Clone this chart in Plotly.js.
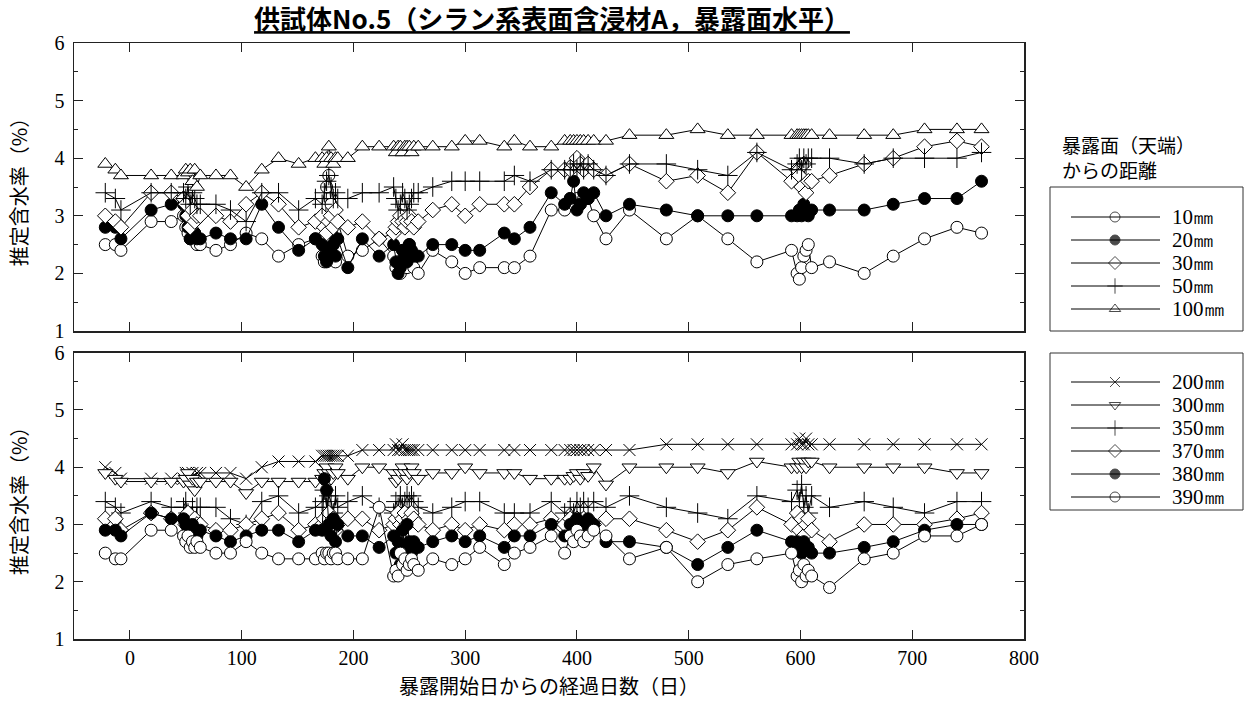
<!DOCTYPE html>
<html>
<head>
<meta charset="utf-8">
<script src="https://cdn.plot.ly/plotly-3.0.1.min.js"></script>
<style>html,body{margin:0;padding:0;background:#fff;}</style>
</head>
<body>
<div id="chart" style="width:1245px;height:702px;"></div>
<script>
// Measurement days (elapsed days since exposure start)
const days = [-22,-13,-8,19,37, 48,50,52,54,56,58,60, 63,77,90,104,118,133,151,166,
  172,174,176,178,180,182,184,186, 195,208,223,
  236,238,240,242,244,246,248,250,252,254,
  258,271,288,300,313,335,344,358,377,389,
  394,397,400,403,406,410,415,
  426,447,480,508,535,561,592,
  597,599,601,603,605,607,610,
  626,657,683,711,740,762];

// Upper panel: depth from exposed surface 10-100 mm
const top10 = [2.5,2.5,2.4,2.9,2.9, 3.0,2.8,2.7,2.6,2.9,2.7,2.5, 2.5,2.4,2.5,2.7,2.6,2.3,2.5,2.6,
  2.3,2.2,3.5,3.7,3.2,2.5,2.2,2.9, 2.3,2.4,2.6,
  2.3,2.1,2.2,2.0,2.4,2.3,2.1,2.5,2.2,2.1,
  2.0,2.4,2.2,2.0,2.1,2.1,2.1,2.3,3.1,3.1,
  3.3,3.2,3.3,3.2,3.3,3.3,3.0,
  2.6,3.1,2.6,3.0,2.6,2.2,2.4,
  2.0,1.9,2.1,2.3,2.4,2.5,2.1,
  2.2,2.0,2.3,2.6,2.8,2.7];
const top20 = [2.8,2.8,2.6,3.1,3.2, 3.2,3.0,2.8,2.6,2.9,2.7,2.6, 2.6,2.7,2.6,2.6,3.2,2.8,2.4,2.6,
  2.5,2.3,2.2,2.4,2.7,2.5,2.3,2.6, 2.1,2.6,2.3,
  2.5,2.2,2.0,2.1,2.4,2.3,2.2,2.5,2.4,2.3,
  2.3,2.5,2.5,2.4,2.4,2.7,2.6,2.8,3.4,3.2,
  3.3,3.6,3.1,3.2,3.4,3.3,3.4,
  3.0,3.2,3.1,3.0,3.0,3.0,3.0,
  3.0,3.1,3.0,3.2,3.1,3.0,3.1,
  3.1,3.1,3.2,3.3,3.3,3.6];
const top30 = [3.0,2.9,2.8,3.4,3.4, 3.3,3.2,3.0,2.8,3.1,2.9,3.0, 3.0,3.0,2.9,3.2,3.4,3.2,2.8,2.9,
  3.0,2.8,2.7,2.9,3.0,2.8,3.1,2.9, 2.8,2.9,2.6,
  2.7,2.8,2.9,3.0,2.9,2.8,2.9,3.0,2.9,2.8,
  2.9,3.1,3.2,3.0,3.2,3.2,3.2,3.5,3.8,3.8,
  3.8,3.9,4.0,3.9,3.8,3.9,3.8,
  3.7,3.9,3.6,3.7,3.4,4.1,3.6,
  3.8,3.7,3.5,3.9,3.4,3.6,3.6,
  3.7,3.9,4.0,4.2,4.3,4.2];
const top50 = [3.4,3.3,3.1,3.4,3.4, 3.4,3.3,3.5,3.2,3.4,3.3,3.2, 3.2,3.2,3.1,2.9,3.4,3.4,3.1,3.3,
  3.2,3.4,3.6,3.7,3.5,3.3,3.4,3.3, 3.3,3.4,3.4,
  3.5,3.3,3.1,3.2,3.4,3.3,3.1,3.2,3.3,3.4,
  3.4,3.5,3.6,3.6,3.6,3.6,3.7,3.6,3.8,3.8,
  3.8,3.9,3.8,3.9,3.8,3.9,3.8,
  3.7,3.9,3.9,3.8,3.7,4.1,3.8,
  3.9,4.0,3.8,4.0,3.9,4.0,4.0,
  4.0,3.9,4.0,4.0,4.0,4.1];
const top100 = [3.9,3.8,3.7,3.7,3.7, 3.7,3.8,3.75,3.8,3.6,3.8,3.5, 3.7,3.7,3.7,3.5,3.8,4.0,3.9,4.0,
  4.0,3.9,4.0,4.2,4.0,3.9,4.0,4.0, 4.0,4.2,4.2,
  4.2,4.1,4.2,4.2,4.1,4.2,4.2,4.2,4.1,4.2,
  4.2,4.2,4.2,4.3,4.3,4.2,4.3,4.2,4.2,4.3,
  4.3,4.3,4.3,4.3,4.3,4.3,4.3,
  4.3,4.4,4.4,4.5,4.4,4.4,4.4,
  4.4,4.4,4.4,4.4,4.4,4.4,4.4,
  4.4,4.4,4.4,4.5,4.5,4.5];

// Lower panel: depth from exposed surface 200-390 mm
const bot200 = [4.0,3.9,3.8,3.8,3.8, 3.8,3.9,3.9,3.8,3.9,3.8,3.9, 3.9,3.9,3.9,3.8,4.0,4.1,4.1,4.1,
  4.2,4.2,4.2,4.2,4.2,4.2,4.2,4.2, 4.2,4.3,4.3,
  4.3,4.4,4.3,4.3,4.4,4.3,4.3,4.3,4.3,4.3,
  4.3,4.3,4.3,4.3,4.3,4.3,4.3,4.3,4.3,4.3,
  4.3,4.3,4.3,4.3,4.3,4.3,4.3,
  4.3,4.3,4.4,4.4,4.4,4.4,4.4,
  4.4,4.5,4.4,4.4,4.5,4.4,4.4,
  4.4,4.4,4.4,4.4,4.4,4.4];
const bot300 = [3.9,3.8,3.75,3.75,3.75, 3.75,3.8,3.9,3.7,3.8,3.6,3.75, 3.75,3.75,3.75,3.55,3.75,3.75,3.75,3.75,
  3.8,3.9,4.0,3.9,3.8,3.9,4.0,3.9, 3.8,4.0,4.0,
  3.9,3.75,3.8,3.9,4.0,3.9,3.8,3.9,4.0,3.9,
  3.8,3.9,3.9,4.0,3.9,3.9,3.9,3.8,3.8,3.8,
  3.8,3.85,3.9,3.8,3.9,3.85,4.0,
  3.7,4.0,4.0,4.0,3.9,4.1,4.0,
  4.0,4.1,4.0,4.1,4.0,4.1,4.1,
  4.0,4.0,4.0,4.0,3.9,3.9];
const bot350 = [3.4,3.3,3.2,3.4,3.3, 3.3,3.4,3.2,3.1,3.3,3.0,3.3, 3.3,3.3,3.1,3.0,3.4,3.5,3.2,3.3,
  3.4,3.6,3.3,3.5,3.4,3.2,3.5,3.3, 3.4,3.5,3.3,
  3.2,3.4,3.3,3.5,3.3,3.4,3.5,3.4,3.5,3.4,
  3.3,3.2,3.3,3.4,3.4,3.2,3.2,3.2,3.4,3.2,
  3.3,3.2,3.4,3.3,3.4,3.3,3.4,
  3.3,3.5,3.3,3.2,3.1,3.5,3.4,
  3.6,3.4,3.7,3.3,3.5,3.2,3.5,
  3.3,3.4,3.3,3.2,3.4,3.4];
const bot370 = [3.1,3.1,2.9,3.2,3.1, 3.1,3.0,3.2,2.9,3.0,3.1,3.0, 3.0,2.9,2.9,3.0,3.1,3.2,2.9,3.0,
  3.0,3.1,2.9,3.2,3.0,3.1,2.9,3.0, 3.1,3.1,2.9,
  3.0,3.1,3.2,3.0,3.1,3.2,3.0,3.1,3.2,3.1,
  3.0,2.9,3.0,2.9,3.0,2.9,3.0,3.0,3.1,3.0,
  3.1,3.0,3.1,3.0,3.1,3.0,3.0,
  3.1,3.1,2.9,2.7,2.9,3.3,3.0,
  3.2,2.9,3.1,2.8,3.0,3.1,2.9,
  2.7,3.0,3.0,3.0,3.1,3.2];
const bot380 = [2.9,2.9,2.8,3.2,3.1, 3.1,3.0,2.9,2.8,3.0,2.9,2.8, 2.9,2.8,2.7,2.8,2.9,2.9,2.7,2.9,
  2.9,3.8,3.6,3.0,2.8,3.1,2.7,3.0, 2.8,2.8,2.6,
  2.8,2.5,2.7,2.3,2.9,2.6,3.0,2.7,2.5,2.7,
  2.6,2.7,2.8,2.7,2.8,2.6,2.8,2.8,3.0,2.8,
  3.0,2.9,3.1,2.8,3.0,3.1,3.0,
  2.7,2.7,2.6,2.3,2.6,2.9,2.7,
  2.7,2.6,2.5,2.7,2.6,2.6,2.5,
  2.5,2.6,2.7,2.9,3.0,3.0];
const bot390 = [2.5,2.4,2.4,2.9,2.9, 2.8,2.7,2.8,2.6,2.7,2.6,2.7, 2.6,2.5,2.5,2.7,2.5,2.4,2.4,2.4,
  2.5,2.4,2.5,2.5,2.4,2.5,2.5,2.4, 2.4,2.4,3.3,
  2.1,2.2,2.1,2.5,2.3,2.4,2.2,2.3,2.4,2.3,
  2.2,2.4,2.3,2.4,2.6,2.3,2.5,2.6,2.8,2.5,
  2.8,2.7,2.9,2.8,2.7,2.8,2.9,
  2.8,2.4,2.6,2.0,2.3,2.4,2.5,
  2.1,2.2,2.0,2.3,2.1,2.2,2.1,
  1.9,2.4,2.5,2.8,2.8,3.0];

const topNames = ['10㎜','20㎜','30㎜','50㎜','100㎜'];
const botNames = ['200㎜','300㎜','350㎜','370㎜','380㎜','390㎜'];
const chartTitle = '供試体No.5（シラン系表面含浸材A，暴露面水平）';
const yTitle = '推定含水率（%）';
const xTitle = '暴露開始日からの経過日数（日）';
const legendHeading = '暴露面（天端）<br>からの距離';

const serif = 'Liberation Serif, Times New Roman, DejaVu Serif, serif';
const cjk = 'Noto Sans CJK JP, sans-serif';
const ink = '#000';

// marker styles: [symbol, fill, size]
const styles = {
  openCircle: ['circle', '#fff', 12],
  dot: ['circle', '#000', 12],
  diamond: ['diamond', '#fff', 12],
  plus: ['cross-thin', '#000', 14],
  triUp: ['triangle-up', '#fff', 13],
  cross: ['x-thin', '#000', 12],
  triDown: ['triangle-down', '#fff', 13]
};

function series(y, st, xa, ya) {
  const s = styles[st];
  return {
    x: days, y: y, xaxis: xa, yaxis: ya, type: 'scatter', mode: 'lines+markers',
    showlegend: false, hoverinfo: 'skip',
    line: {color: ink, width: 1},
    marker: {symbol: s[0], color: s[1], size: s[2], line: {color: ink, width: 1}}
  };
}

const topSeries = [[top10,'openCircle'],[top20,'dot'],[top30,'diamond'],[top50,'plus'],[top100,'triUp']];
const botSeries = [[bot200,'cross'],[bot300,'triDown'],[bot350,'plus'],[bot370,'diamond'],[bot380,'dot'],[bot390,'openCircle']];

const traces = [];
topSeries.forEach(p => traces.push(series(p[0], p[1], 'x2', 'y2')));
botSeries.forEach(p => traces.push(series(p[0], p[1], 'x', 'y')));

// key panels (drawn on a hidden pixel-scaled axis pair)
const keyLineX0 = 1071, keyLineX1 = 1160, keyMarkX = 1115, keyTextX = 1170;
const keyTopRow0 = 217, keyBotRow0 = 382, keyStep = 23;
const shapes = [];
const annotations = [];
function keyBlock(names, stKeys, row0) {
  const xs = [], ys = [], syms = [], fills = [], sizes = [];
  names.forEach((n, i) => {
    const yy = row0 + i * keyStep;
    shapes.push({type: 'line', xref: 'x3', yref: 'y3', x0: keyLineX0, x1: keyLineX1, y0: yy, y1: yy,
      line: {color: ink, width: 1}});
    annotations.push({xref: 'x3', yref: 'y3', x: keyTextX, y: yy, text: n, showarrow: false,
      xanchor: 'left', yanchor: 'middle', font: {family: serif, size: 21, color: ink}});
    const s = styles[stKeys[i]];
    xs.push(keyMarkX); ys.push(yy); syms.push(s[0]); fills.push(s[1]); sizes.push(Math.round(s[2] * 0.8));
  });
  traces.push({x: xs, y: ys, xaxis: 'x3', yaxis: 'y3', type: 'scatter', mode: 'markers',
    showlegend: false, hoverinfo: 'skip', cliponaxis: false,
    marker: {symbol: syms, color: fills, size: sizes, line: {color: ink, width: 1}}});
}
keyBlock(topNames, topSeries.map(p => p[1]), keyTopRow0);
keyBlock(botNames, botSeries.map(p => p[1]), keyBotRow0);
shapes.push({type: 'rect', xref: 'x3', yref: 'y3', x0: 1050, x1: 1243, y0: 187, y1: 331, line: {color: '#333', width: 1}});
shapes.push({type: 'rect', xref: 'x3', yref: 'y3', x0: 1050, x1: 1243, y0: 353, y1: 510, line: {color: '#333', width: 1}});
annotations.push({xref: 'x3', yref: 'y3', x: 1060, y: 157, text: legendHeading, showarrow: false,
  xanchor: 'left', yanchor: 'middle', align: 'left', font: {family: cjk, size: 19, color: ink}});

function axisBase() {
  return {
    showline: true, linecolor: '#222', linewidth: 1.5, mirror: 'ticks',
    ticks: 'inside', ticklen: 9, tickwidth: 1, tickcolor: '#222',
    showgrid: false, zeroline: false,
    tickfont: {family: serif, size: 20, color: ink}
  };
}
const xDomain = [0, 950 / 1171];
const xBottom = Object.assign(axisBase(), {
  domain: xDomain, anchor: 'y', range: [-50, 800], tick0: 0, dtick: 100,
  title: {text: xTitle, font: {family: cjk, size: 20, color: ink}, standoff: 12}
});
const xTop = Object.assign(axisBase(), {
  domain: xDomain, anchor: 'y2', range: [-50, 800], tick0: 0, dtick: 100, showticklabels: false
});
function yAxis(domain, anchor) {
  return Object.assign(axisBase(), {
    domain: domain, anchor: anchor, range: [1, 6], tick0: 1, dtick: 1,
    ticklabelstandoff: 4,
    minor: {dtick: 0.5, ticklen: 4, ticks: 'inside', tickcolor: '#222', tickwidth: 1},
    title: {text: yTitle, font: {family: cjk, size: 20, color: ink}, standoff: 21}
  });
}

const layout = {
  width: 1245, height: 702,
  margin: {l: 74, r: 0, t: 43, b: 63},
  paper_bgcolor: '#fff', plot_bgcolor: '#fff',
  font: {family: serif, size: 20, color: ink},
  showlegend: false,
  title: {text: '<u>' + chartTitle + '</u>', xref: 'paper', x: (552 - 74) / 1171, xanchor: 'center',
    yref: 'container', y: 1 - 20 / 702, yanchor: 'middle',
    font: {family: cjk, size: 26, color: ink, weight: 'bold'}},
  xaxis: xBottom,
  yaxis: yAxis([0, (639 - 352.7) / 596], 'x'),
  xaxis2: xTop,
  yaxis2: yAxis([(639 - 331) / 596, 1], 'x2'),
  xaxis3: {domain: [(1030 - 74) / 1171, 1], range: [1030, 1245], anchor: 'y3', visible: false, fixedrange: true},
  yaxis3: {domain: [0, 1], range: [639, 43], anchor: 'x3', visible: false, fixedrange: true},
  shapes: shapes,
  annotations: annotations
};

Plotly.newPlot('chart', traces, layout, {displayModeBar: false, staticPlot: true});
</script>
</body>
</html>
